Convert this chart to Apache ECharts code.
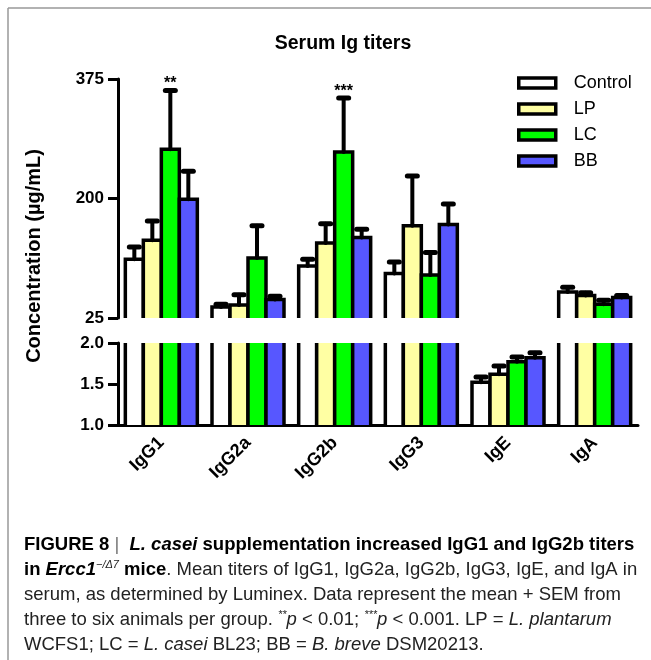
<!DOCTYPE html>
<html>
<head>
<meta charset="utf-8">
<script src="https://cdn.jsdelivr.net/npm/echarts@6/dist/echarts.min.js"></script>
<style>
  html, body { margin: 0; padding: 0; background: #fff; }
  #chart { width: 651px; height: 660px; }
</style>
</head>
<body>
<div id="chart"></div>
<script>
const categories = ['IgG1', 'IgG2a', 'IgG2b', 'IgG3', 'IgE', 'IgA'];
const groups = ['Control', 'LP', 'LC', 'BB'];
const groupColors = ['#ffffff', '#ffffa3', '#00ff00', '#5757ff'];

// mean titers (µg/mL); IgE sits on the lower 1.0 - 2.0 scale
const controlMean = [111, 41, 101, 90, 1.52, 63];
const lpMean = [139, 44, 135, 160, 1.62, 58];
const lcMean = [272, 113, 268, 88, 1.77, 45];
const bbMean = [199, 52, 143, 162, 1.82, 55];

// SEM (drawn upward only)
const controlSem = [18, 4, 10, 17, 0.065, 7];
const lpSem = [28, 15, 28, 73, 0.10, 4];
const lcSem = [86, 47, 79, 33, 0.06, 6];
const bbSem = [41, 5, 12, 30, 0.06, 3];

const lcSignif = ['**', '', '***', '', '', ''];

const upperTicks = [25, 200, 375];
const lowerTicks = [1.0, 1.5, 2.0];

const FONT = 'Liberation Sans';
const BAR_W = 18;

const means = [controlMean, lpMean, lcMean, bbMean];
const sems = [controlSem, lpSem, lcSem, bbSem];
const signifs = [null, null, lcSignif, null];

// one group of bars (+ error bar) inside one segment of the broken axis
function makeRender(g, signif) {
  return function (params, api) {
    const cs = params.coordSys;
    const top = cs.y;
    const bottom = cs.y + cs.height;
    const idx = api.value(0);
    const p = api.coord([idx, api.value(1)]);
    if (p[1] >= bottom) return null;
    const left = p[0] + (g - 2) * BAR_W;
    const right = left + BAR_W;
    const cx = left + BAR_W / 2;
    const cut = p[1] < top;
    const y = cut ? top : p[1];
    const line = { stroke: '#000', lineWidth: 3.5 };
    const children = [{
      type: 'rect',
      shape: { x: left, y: y, width: BAR_W, height: bottom - y },
      style: { fill: api.visual('color') }
    }];
    if (cut) {
      children.push({ type: 'line', shape: { x1: left, y1: bottom, x2: left, y2: top }, style: line });
      children.push({ type: 'line', shape: { x1: right, y1: bottom, x2: right, y2: top }, style: line });
    } else {
      const pe = api.coord([idx, api.value(2)]);
      if (pe[1] >= top) {
        const err = { stroke: '#000', lineWidth: 4, lineCap: 'round' };
        children.push({ type: 'line', shape: { x1: cx, y1: y, x2: cx, y2: pe[1] }, style: err });
        children.push({ type: 'line', shape: { x1: cx - 5, y1: pe[1], x2: cx + 5, y2: pe[1] }, style: { stroke: '#000', lineWidth: 5, lineCap: 'round' } });
        if (signif && signif[idx]) {
          children.push({
            type: 'text',
            style: {
              text: signif[idx], x: cx, y: pe[1] + 1, align: 'center', verticalAlign: 'bottom',
              fontSize: 16, fontWeight: 'bold', fontFamily: FONT, fill: '#000'
            }
          });
        }
      }
      children.push({
        type: 'polyline',
        shape: { points: [[left, bottom], [left, y], [right, y], [right, bottom]] },
        style: Object.assign({ fill: null }, line)
      });
    }
    return { type: 'group', children: children };
  };
}

const series = [];
[0, 1].forEach(function (gi) {
  groups.forEach(function (name, g) {
    series.push({
      type: 'custom',
      name: name,
      xAxisIndex: gi,
      yAxisIndex: gi,
      silent: true,
      itemStyle: { color: groupColors[g], borderColor: '#000', borderWidth: 3.5 },
      renderItem: makeRender(g, signifs[g]),
      encode: { x: 0, y: [1, 2] },
      data: categories.map(function (c, i) {
        return [i, means[g][i], means[g][i] + sems[g][i]];
      })
    });
  });
});

function yAxisFor(gi, min, max, ticks, fmt) {
  return {
    type: 'value',
    gridIndex: gi,
    min: min,
    max: max,
    axisLine: { show: true, lineStyle: { color: '#000', width: 3 } },
    axisTick: { show: true, length: 10, customValues: ticks, lineStyle: { color: '#000', width: 3 } },
    axisLabel: {
      customValues: ticks, formatter: fmt, color: '#000', fontWeight: 'bold',
      fontSize: 17, fontFamily: FONT, margin: 14
    },
    splitLine: { show: false }
  };
}

const capBase = { fontSize: 18.5, fontFamily: FONT, fill: '#222' };
const capRich = {
  b: Object.assign({}, capBase, { fontWeight: 'bold', fill: '#000' }),
  bi: Object.assign({}, capBase, { fontWeight: 'bold', fontStyle: 'italic', fill: '#000' }),
  r: Object.assign({}, capBase),
  i: Object.assign({}, capBase, { fontStyle: 'italic' }),
  sep: Object.assign({}, capBase, { fill: '#777' }),
  sup: Object.assign({}, capBase, { fontSize: 11, fontStyle: 'italic', verticalAlign: 'top' })
};
const captionLines = [
  '{b|FIGURE 8}{sep| |  }{bi|L. casei}{b| supplementation increased IgG1 and IgG2b titers}',
  '{b|in }{bi|Ercc1}{sup|\u2212/\u03947}{b| mice}{r|. Mean titers of IgG1, IgG2a, IgG2b, IgG3, IgE, and IgA in}',
  '{r|serum, as determined by Luminex. Data represent the mean + SEM from}',
  '{r|three to six animals per group. }{sup|**}{i|p}{r| < 0.01; }{sup|***}{i|p}{r| < 0.001. LP = }{i|L. plantarum}',
  '{r|WCFS1; LC = }{i|L. casei}{r| BL23; BB = }{i|B. breve}{r| DSM20213.}'
];

const graphics = [
  { type: 'line', shape: { x1: 8, y1: 8, x2: 651, y2: 8 }, style: { stroke: '#999', lineWidth: 1.5 } },
  { type: 'line', shape: { x1: 8, y1: 8, x2: 8, y2: 660 }, style: { stroke: '#999', lineWidth: 1.5 } },
  {
    type: 'text', x: 34, y: 256, rotation: Math.PI / 2,
    style: {
      text: 'Concentration (µg/mL)', align: 'center', verticalAlign: 'middle',
      fontSize: 20, fontWeight: 'bold', fontFamily: FONT, fill: '#000'
    }
  }
];
captionLines.forEach(function (t, k) {
  graphics.push({
    type: 'text', x: 24, y: 545 + k * 25,
    style: { text: t, rich: capRich, verticalAlign: 'middle', lineHeight: 22, fontSize: 18.5, fontFamily: FONT }
  });
});

const chart = echarts.init(document.getElementById('chart'));
chart.setOption({
  animation: false,
  backgroundColor: '#fff',
  title: {
    text: 'Serum Ig titers',
    left: 338,
    top: 29,
    textAlign: 'center',
    textStyle: { fontSize: 19.5, fontWeight: 'bold', fontFamily: FONT, color: '#000' }
  },
  legend: {
    data: groups.map(function (n, g) {
      return { name: n, icon: 'rect', itemStyle: { color: groupColors[g], borderColor: '#000', borderWidth: 3.5 } };
    }),
    orient: 'vertical',
    left: 517,
    top: 73,
    padding: 0,
    itemWidth: 37,
    itemHeight: 10,
    itemGap: 6,
    selectedMode: false,
    textStyle: { fontSize: 18, fontFamily: FONT, color: '#000', lineHeight: 20, padding: [0, 0, 0, 13] }
  },
  grid: [
    { left: 118, top: 79, width: 520, height: 239 },
    { left: 118, top: 343, width: 520, height: 82 }
  ],
  xAxis: [
    { type: 'category', gridIndex: 0, data: categories, show: false },
    {
      type: 'category',
      gridIndex: 1,
      data: categories,
      axisLine: { onZero: false, lineStyle: { color: '#000', width: 3 } },
      axisTick: { alignWithLabel: true, length: 10, lineStyle: { color: '#000', width: 3 } },
      axisLabel: { rotate: 45, margin: 15, color: '#000', fontWeight: 'bold', fontSize: 18, fontFamily: FONT }
    }
  ],
  yAxis: [
    yAxisFor(0, 25, 375, upperTicks, function (v) { return String(v); }),
    yAxisFor(1, 1, 2, lowerTicks, function (v) { return v.toFixed(1); })
  ],
  graphic: graphics,
  series: series
});
</script>
</body>
</html>
